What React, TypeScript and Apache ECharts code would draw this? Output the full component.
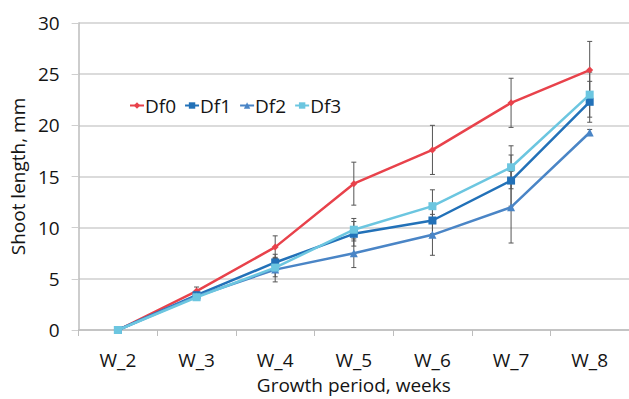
import React, { useEffect, useRef } from "react";
import * as echarts from "echarts";

const categories = ["W_2", "W_3", "W_4", "W_5", "W_6", "W_7", "W_8"];
const seriesNames = ["Df0", "Df1", "Df2", "Df3"];
const df0 = [0, 3.8, 8.1, 14.3, 17.6, 22.2, 25.4];
const df1 = [0, 3.4, 6.6, 9.4, 10.7, 14.6, 22.3];
const df2 = [0, 3.3, 5.9, 7.5, 9.3, 12.0, 19.3];
const df3 = [0, 3.2, 6.1, 9.8, 12.1, 15.9, 23.0];
const err0 = [0, 0.4, 1.1, 2.1, 2.4, 2.4, 2.8];
const err1 = [0, 0.3, 0.8, 1.2, 1.3, 2.5, 2.0];
const err2 = [0, 0.3, 1.2, 1.4, 2.0, 3.5, 0.3];
const err3 = [0, 0.3, 0.9, 1.1, 1.6, 2.1, 2.2];
const yTicks = [0, 5, 10, 15, 20, 25, 30];

const colors = ["#e8424b", "#2271b8", "#4a85c6", "#6cc6e0"];
const symbols = ["diamond", "rect", "triangle", "rect"];
const symbolSizes = [7, 8, 8, 8];

export default function App() {
  const ref = useRef<HTMLDivElement>(null);
  useEffect(() => {
    if (!ref.current) return;
    const chart = echarts.init(ref.current, null, { renderer: "svg" });
    const values = [df0, df1, df2, df3];
    const errs = [err0, err1, err2, err3];
    const errData: number[][] = [];
    values.forEach((vals, s) => {
      vals.forEach((v, i) => {
        if (errs[s][i] > 0) errData.push([i, v - errs[s][i], v + errs[s][i]]);
      });
    });
    const font = "'Open Sans', sans-serif";
    const txt = "#141414";
    chart.setOption({
      animation: false,
      color: colors,
      textStyle: { fontFamily: font },
      grid: { left: 77, right: 0, top: 23, bottom: 69 },
      legend: {
        data: seriesNames,
        left: 124,
        top: 91,
        itemWidth: 14,
        itemHeight: 8,
        itemGap: 8,
        textStyle: { fontSize: 19, color: txt, fontFamily: font, padding: [0, 0, 0, -4] },
      },
      xAxis: {
        type: "category",
        data: categories,
        boundaryGap: true,
        name: "Growth period, weeks",
        nameLocation: "middle",
        nameGap: 45,
        nameTextStyle: { fontSize: 19, color: txt, fontFamily: font },
        axisLine: { lineStyle: { color: "#bdbdbd", width: 1.5 } },
        axisTick: { show: true, length: 6, lineStyle: { color: "#bdbdbd" } },
        axisLabel: { fontSize: 19, color: txt, margin: 20, fontFamily: font },
      },
      yAxis: {
        type: "value",
        min: yTicks[0],
        max: yTicks[yTicks.length - 1],
        interval: 5,
        name: "Shoot length, mm",
        nameLocation: "middle",
        nameGap: 48,
        nameTextStyle: { fontSize: 19, color: txt, fontFamily: font },
        axisLine: { show: true, lineStyle: { color: "#bdbdbd", width: 1.5 } },
        axisTick: { show: true, length: 7, lineStyle: { color: "#cfcfcf" } },
        axisLabel: { fontSize: 19, color: txt, margin: 19, fontFamily: font },
        splitLine: { lineStyle: { color: "#cfcfcf", width: 1.5 } },
      },
      series: [
        {
          type: "custom",
          name: "err",
          data: errData,
          z: 1,
          silent: true,
          renderItem: (params: any, api: any) => {
            const x = api.value(0);
            const lo = api.coord([x, api.value(1)]);
            const hi = api.coord([x, api.value(2)]);
            const w = 2.5;
            const st = { stroke: "#555", lineWidth: 1 };
            return {
              type: "group",
              children: [
                { type: "line", shape: { x1: hi[0], y1: hi[1], x2: lo[0], y2: lo[1] }, style: st },
                { type: "line", shape: { x1: hi[0] - w, y1: hi[1], x2: hi[0] + w, y2: hi[1] }, style: st },
                { type: "line", shape: { x1: lo[0] - w, y1: lo[1], x2: lo[0] + w, y2: lo[1] }, style: st },
              ],
            };
          },
        },
        ...values.map((vals, s) => ({
          type: "line",
          name: seriesNames[s],
          data: vals,
          z: 2 + s,
          symbol: symbols[s],
          symbolSize: symbolSizes[s],
          showAllSymbol: true,
          lineStyle: { width: 2.5, color: colors[s] },
          itemStyle: { color: colors[s] },
        })),
      ],
    });
    return () => chart.dispose();
  }, []);
  return <div ref={ref} style={{ width: 629, height: 399, position: "absolute", left: 0, top: 0 }} />;
}
